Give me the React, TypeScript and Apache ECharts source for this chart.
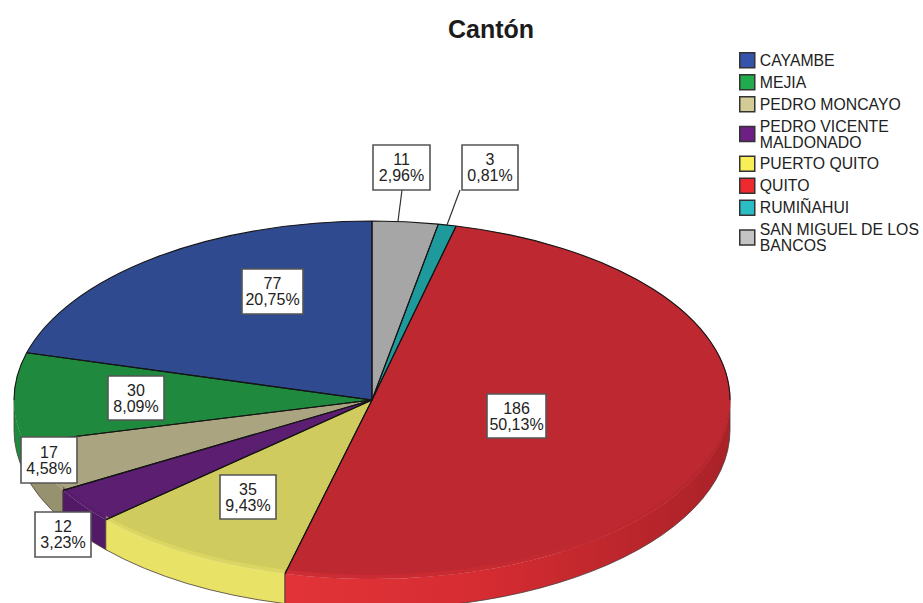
import React, { useEffect, useRef } from "react";
import * as echarts from "echarts";

const TITLE = "Cantón";
const cantons = ["CAYAMBE", "MEJIA", "PEDRO MONCAYO", "PEDRO VICENTE MALDONADO", "PUERTO QUITO", "QUITO", "RUMIÑAHUI", "SAN MIGUEL DE LOS BANCOS"];
const counts = [77, 30, 17, 12, 35, 186, 3, 11];
const percents = ["20,75%", "8,09%", "4,58%", "3,23%", "9,43%", "50,13%", "0,81%", "2,96%"];

const topColors = ["#2f4a8e", "#1f8a3e", "#aaa580", "#5b1e70", "#cfcb5e", "#bd2831", "#1f9a9c", "#a6a6a6"];
const wallColors = ["#3a5aa8", "#1d8a3f", "#96916f", "#521a66", "#e8e266", "#de3136", "#22aaaa", "#b5b5b5"];
const legendColors = ["#3553a8", "#22ab4c", "#d4cc96", "#6d1f85", "#f7ef55", "#ee2a2f", "#2cbcc4", "#c4c4c4"];

const CX = 372, CY = 400, RX = 358, RY = 179, DEPTH = 30, BEVEL = 4;
// label box: x, y, w, h; optional leader line x1, y1, x2, y2
const labelBoxes: number[][] = [
  [242, 269, 61, 45],
  [108, 376, 56, 44],
  [21, 437, 56, 46],
  [35, 512, 56, 45],
  [220, 475, 56, 44],
  [487, 394, 59, 44],
  [462, 145, 56, 45, 460, 190, 447, 225],
  [373, 145, 57, 45, 402, 190, 398, 221],
];

const total = counts.reduce((a, b) => a + b, 0);
const pt = (deg: number, dy = 0) => {
  const r = (deg * Math.PI) / 180;
  return [CX + RX * Math.sin(r), CY - RY * Math.cos(r) + dy];
};
const f = (p: number[]) => `${p[0].toFixed(2)} ${p[1].toFixed(2)}`;
const range = (i: number) => {
  let before = 0;
  for (let k = 0; k < i; k++) before += counts[k];
  const end = 360 - (before / total) * 360;
  return [end - (counts[i] / total) * 360, end];
};
const arc = (a: number, b: number, sweep: number, to: number[]) =>
  `A ${RX} ${RY} 0 ${Math.abs(b - a) > 180 ? 1 : 0} ${sweep} ${f(to)}`;

const renderSlice = (params: any, api: any) => {
  const i = params.seriesIndex;
  const [a, b] = range(i);
  const children: any[] = [];
  const wa = Math.max(a, 90), wb = Math.min(b, 270);
  const hasWall = wb > wa;
  const wallFill: any = i === 5
    ? new echarts.graphic.LinearGradient(0, 0, 1, 0, [
        { offset: 0, color: "#e23438" },
        { offset: 0.45, color: "#d52c32" },
        { offset: 1, color: "#a92228" },
      ])
    : wallColors[i];
  if (hasWall) {
    const d = `M ${f(pt(wa))} ${arc(wa, wb, 1, pt(wb))} L ${f(pt(wb, DEPTH))} ${arc(wb, wa, 0, pt(wa, DEPTH))} Z`;
    children.push({ type: "path", shape: { pathData: d }, style: { fill: wallFill, stroke: "none" }, z2: 1 });
    // thin dark outline under the wall and its vertical edges
    const edge = `M ${f(pt(wa))} L ${f(pt(wa, DEPTH))} ${arc(wa, wb, 1, pt(wb, DEPTH))} L ${f(pt(wb))}`;
    children.push({ type: "path", shape: { pathData: edge }, style: { fill: "none", stroke: "#4a3a3a", lineWidth: 0.8 }, z2: 1 });
  }
  const top = `M ${CX} ${CY} L ${f(pt(a))} ${arc(a, b, 1, pt(b))} Z`;
  children.push({ type: "path", shape: { pathData: top }, style: { fill: topColors[i], stroke: "none" }, z2: 2 });
  if (hasWall) {
    const d = `M ${f(pt(wa))} ${arc(wa, wb, 1, pt(wb))} L ${f(pt(wb, -BEVEL))} ${arc(wb, wa, 0, pt(wa, -BEVEL))} Z`;
    children.push({ type: "path", shape: { pathData: d }, style: { fill: wallFill, opacity: 0.45, stroke: "none" }, z2: 3 });
  }
  let outline = `M ${f(pt(a))} L ${CX} ${CY} L ${f(pt(b))}`;
  if (a < 90) outline += ` M ${f(pt(a))} ${arc(a, Math.min(b, 90), 1, pt(Math.min(b, 90)))}`;
  if (b > 270) outline += ` M ${f(pt(Math.max(a, 270)))} ${arc(Math.max(a, 270), b, 1, pt(b))}`;
  children.push({ type: "path", shape: { pathData: outline }, style: { fill: "none", stroke: "#151515", lineWidth: 1.1 }, z2: 4 });
  const [x, y, w, h, x1, y1, x2, y2] = labelBoxes[i];
  if (x1 != null) {
    children.push({ type: "line", shape: { x1, y1, x2, y2 }, style: { stroke: "#333", lineWidth: 1.2 }, z2: 9 });
  }
  children.push({ type: "rect", shape: { x, y, width: w, height: h }, style: { fill: "#fff", stroke: "#555", lineWidth: 1.6 }, z2: 10 });
  children.push({
    type: "text",
    x: x + w / 2,
    y: y + h / 2,
    style: {
      text: `${api.value(0)}\n${percents[i]}`,
      fill: "#222",
      font: "16px 'Liberation Sans'",
      lineHeight: 16,
      align: "center",
      verticalAlign: "middle",
    },
    z2: 11,
  });
  return { type: "group", children };
};

export default function App() {
  const ref = useRef<HTMLDivElement>(null);
  useEffect(() => {
    document.body.style.margin = "0";
    const chart = echarts.init(ref.current!, undefined, { renderer: "svg" });
    chart.setOption({
      animation: false,
      backgroundColor: "#ffffff",
      title: {
        text: TITLE,
        left: 486,
        top: 11,
        textAlign: "center",
        textStyle: { fontFamily: "Liberation Sans", fontSize: 25, fontWeight: "bold", color: "#1c1c1c" },
      },
      legend: {
        orient: "vertical",
        left: 734,
        top: 47,
        itemWidth: 15,
        itemHeight: 15,
        itemGap: 5.5,
        icon: "rect",
        selectedMode: false,
        data: cantons.map((name, i) => ({
          name,
          itemStyle: { color: legendColors[i], borderColor: "#333", borderWidth: 1.5 },
        })),
        formatter: (n: string) =>
          n === "PEDRO VICENTE MALDONADO"
            ? "PEDRO VICENTE\nMALDONADO"
            : n === "SAN MIGUEL DE LOS BANCOS"
            ? "SAN MIGUEL DE LOS\nBANCOS"
            : n,
        textStyle: { fontFamily: "Liberation Sans", fontSize: 15.8, color: "#222", lineHeight: 16 },
      },
      series: cantons.map((name, i) => ({
        type: "custom",
        name,
        coordinateSystem: "none",
        renderItem: renderSlice,
        itemStyle: { color: legendColors[i] },
        data: [[counts[i]]],
        silent: true,
      })),
    });
    return () => chart.dispose();
  }, []);
  return <div ref={ref} style={{ width: 923, height: 603 }} />;
}
